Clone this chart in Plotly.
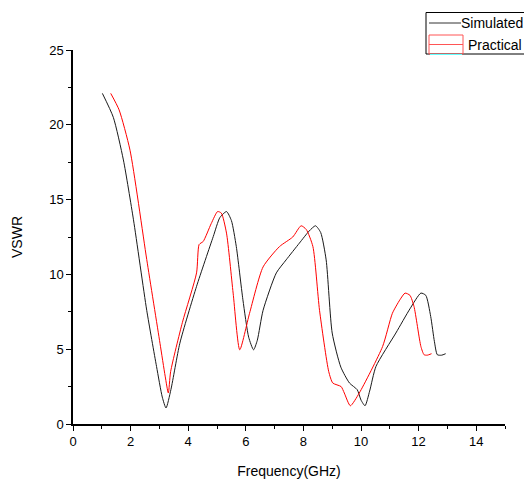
import plotly.graph_objects as go

sim_freq = [1.02, 1.4, 1.75, 2.1, 2.56, 2.9, 3.1, 3.23, 3.4, 3.71, 4.29, 4.87, 5.1, 5.33, 5.5, 5.67, 5.9, 6.1, 6.27, 6.4, 6.6, 7.06, 7.4, 7.86, 8.2, 8.42, 8.6, 8.79, 9.0, 9.3, 9.6, 9.87, 10.0, 10.14, 10.3, 10.52, 11.21, 11.7, 12.08, 12.25, 12.42, 12.55, 12.65, 12.8, 12.94]
sim_vswr = [22.1, 20.5, 17.65, 13.65, 7.6, 3.85, 1.8, 1.07, 2.3, 5.4, 9.2, 12.53, 13.8, 14.2, 13.6, 11.86, 8.3, 5.8, 4.96, 5.6, 7.6, 10.1, 10.97, 12.09, 12.9, 13.25, 12.8, 10.97, 6.08, 3.8, 2.74, 2.29, 1.6, 1.22, 2.2, 3.85, 6.08, 7.7, 8.75, 8.6, 7.19, 5.5, 4.63, 4.6, 4.7]

prac_freq = [1.31, 1.6, 1.98, 2.56, 3.02, 3.2, 3.31, 3.39, 3.8, 4.29, 4.38, 4.52, 4.8, 5.02, 5.15, 5.33, 5.56, 5.79, 6.13, 6.6, 7.17, 7.63, 7.92, 8.1, 8.33, 8.56, 8.88, 9.02, 9.31, 9.42, 9.63, 9.94, 10.75, 11.09, 11.35, 11.53, 11.7, 11.84, 12.08, 12.19, 12.3, 12.45]
prac_vswr = [22.1, 21.0, 18.3, 11.0, 5.4, 3.2, 2.07, 3.5, 6.8, 10.1, 12.0, 12.2, 13.4, 14.2, 14.1, 12.76, 8.75, 4.96, 7.4, 10.5, 11.86, 12.5, 13.25, 13.0, 11.86, 7.6, 3.5, 2.74, 2.5, 2.07, 1.22, 2.07, 5.18, 7.4, 8.3, 8.75, 8.6, 7.86, 5.18, 4.63, 4.6, 4.7]

series_names = ["Simulated", "Practical"]
x_ticks = [0, 2, 4, 6, 8, 10, 12, 14]
y_ticks = [0, 5, 10, 15, 20, 25]

W, H = 524, 471
L, R, T, B = 65, 27, 42, 55
pw, ph = W - L - R, H - T - B


def px(xp):
    return (xp - L) / pw


def py(yp):
    return (H - B - yp) / ph


fig = go.Figure()
fig.add_trace(go.Scatter(x=sim_freq, y=sim_vswr, mode="lines", name=series_names[0],
                         line=dict(color="#1a1a1a", width=1, shape="spline", smoothing=0.6)))
fig.add_trace(go.Scatter(x=prac_freq, y=prac_vswr, mode="lines", name=series_names[1],
                         line=dict(color="red", width=1, shape="spline", smoothing=0.6)))

shapes = [
    # legend border
    dict(type="rect", xref="paper", yref="paper", x0=px(418), x1=px(540), y0=py(46), y1=py(4.5),
         line=dict(color="black", width=1), fillcolor="white", layer="above"),
    # legend samples
    dict(type="line", xref="paper", yref="paper", x0=px(421), x1=px(453), y0=py(15), y1=py(15),
         line=dict(color="#333333", width=1), layer="above"),
    dict(type="rect", xref="paper", yref="paper", x0=px(421), x1=px(455), y0=py(46), y1=py(27),
         line=dict(color="#ff5555", width=1), layer="above"),
    dict(type="line", xref="paper", yref="paper", x0=px(421), x1=px(455), y0=py(36.5), y1=py(36.5),
         line=dict(color="#ff5555", width=1), layer="above"),
    dict(type="line", xref="paper", yref="paper", x0=px(422), x1=px(454), y0=py(46.5), y1=py(46.5),
         line=dict(color="#66ffff", width=1), layer="above"),
]

legend_font = dict(family="Liberation Sans, Arial", size=14, color="black")
annotations = [
    dict(text=series_names[0], xref="paper", yref="paper", x=px(452), y=py(15),
         xanchor="left", yanchor="middle", showarrow=False, font=legend_font, borderpad=0),
    dict(text=series_names[1], xref="paper", yref="paper", x=px(459), y=py(37),
         xanchor="left", yanchor="middle", showarrow=False, font=legend_font, borderpad=0),
]

axis_font = dict(family="Liberation Sans, Arial", size=13, color="black")
fig.update_layout(
    width=W, height=H,
    margin=dict(l=L, r=R, t=T, b=B, autoexpand=False),
    paper_bgcolor="white", plot_bgcolor="white",
    font=dict(family="Liberation Sans, Arial", size=13, color="black"),
    showlegend=False,
    shapes=shapes,
    annotations=annotations,
    xaxis=dict(range=[0, 15], tickvals=x_ticks, ticks="outside", ticklen=5, tickwidth=1,
               tickcolor="black", showline=True, linecolor="black", linewidth=1.5,
               showgrid=False, zeroline=False, tickfont=axis_font, automargin=False,
               minor=dict(dtick=1, tick0=0, ticks="outside", ticklen=3, tickcolor="black", showgrid=False),
               title=dict(text="Frequency(GHz)", font=dict(size=14), standoff=19)),
    yaxis=dict(range=[0, 25], tickvals=y_ticks, ticks="outside", ticklen=5, tickwidth=1,
               tickcolor="black", showline=True, linecolor="black", linewidth=1.5,
               showgrid=False, zeroline=False, tickfont=axis_font, automargin=False,
               minor=dict(dtick=2.5, tick0=0, ticks="outside", ticklen=3, tickcolor="black", showgrid=False),
               title=dict(text="VSWR", font=dict(size=14), standoff=23)),
)

fig.write_html("out.html")
